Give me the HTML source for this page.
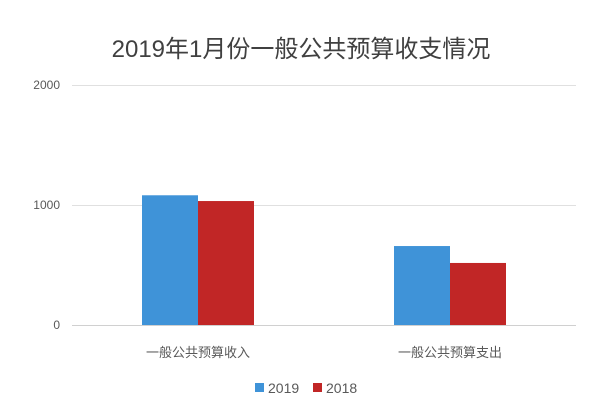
<!DOCTYPE html>
<html><head><meta charset="utf-8"><style>
body{margin:0;background:#fff;}
svg text{font-family:"Liberation Sans","Noto Sans CJK SC",sans-serif;}
</style></head><body>
<svg id="chart" width="600" height="408" viewBox="0 0 600 408">
<text x="301" y="57" text-anchor="middle" font-size="24" fill="#404040">2019年1月份一般公共预算收支情况</text>
<g id="grid"></g><g id="bars"></g><g id="labels"></g>
<g>
<rect x="255" y="383" width="9" height="9" fill="#3f93d8"/>
<text x="268" y="393" font-size="14" fill="#595959">2019</text>
<rect x="313" y="383" width="9" height="9" fill="#c12626"/>
<text x="326" y="393" font-size="14" fill="#595959">2018</text>
</g>
</svg>
<script>
const categories=["一般公共预算收入","一般公共预算支出"];
const series2019=[1081,658];
const series2018=[1033,517];
const ticks=[0,1000,2000];
const NS="http://www.w3.org/2000/svg";
const x0=72,x1=576,y0=325,pxPer=0.12;
const y=v=>y0-v*pxPer;
const band=(x1-x0)/categories.length;
const cx=i=>x0+band*(i+0.5);
function mk(t,a,p){const e=document.createElementNS(NS,t);for(const k in a)e.setAttribute(k,a[k]);p.appendChild(e);return e;}
const grid=document.getElementById('grid'),bars=document.getElementById('bars'),labels=document.getElementById('labels');
ticks.forEach(t=>{
 const l=mk('line',{x1:x0,x2:x1,y1:y(t)+0.5,y2:y(t)+0.5,stroke:t===0?'#d0d0d0':'#e0e0e0','stroke-width':1},grid);
 
 
 const tx=mk('text',{x:60,y:y(t)+4,'text-anchor':'end','font-size':12,fill:'#595959'},labels);
 tx.textContent=t;
 
 
});
const bw=56;
categories.forEach((c,i)=>{
 const b1=mk('rect',{x:cx(i)-bw,y:y(series2019[i]),width:bw,height:y0-y(series2019[i]),fill:'#3f93d8'},bars);
 
 
 const b2=mk('rect',{x:cx(i),y:y(series2018[i]),width:bw,height:y0-y(series2018[i]),fill:'#c12626'},bars);
 
 
 const t=mk('text',{x:cx(i),y:357,'text-anchor':'middle','font-size':13,fill:'#595959'},labels);
 t.textContent=c;
 
 
});
</script>
</body></html>
